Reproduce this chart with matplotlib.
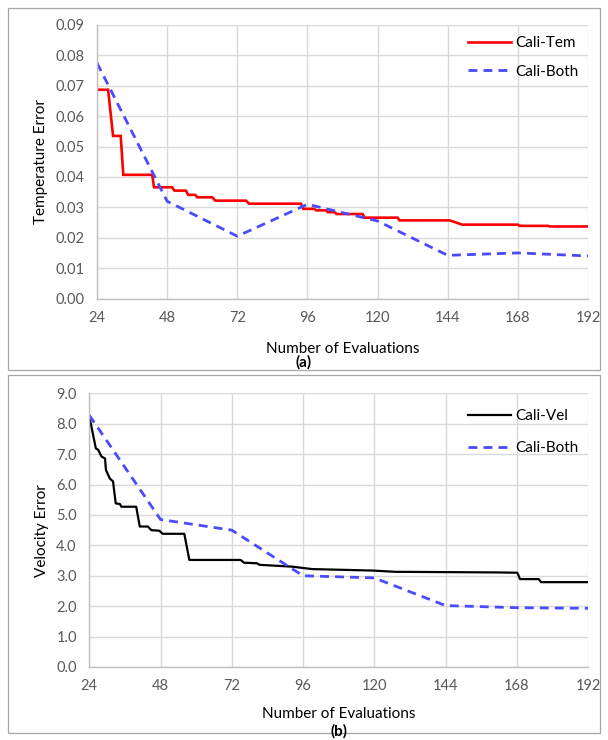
import matplotlib
matplotlib.use("Agg")
import matplotlib.pyplot as plt
from matplotlib.patches import Rectangle
import numpy as np

plt.rcParams['font.family'] = ['Lato', 'DejaVu Sans']

# ---- data (a) ----
tem_x = [24, 27.8, 29.5, 32.1, 33.0, 42.9, 43.5, 49.7, 50.5, 54.4, 55.2, 57.6, 58.4, 63.4, 64.5,
         75, 76, 93.8, 94.6, 98.4, 99, 102.4, 103, 105.3, 106, 114.9, 115.5, 126.9, 127.5, 144.7,
         149, 168, 168.6, 178.3, 179, 192]
tem_y = [0.0687, 0.0687, 0.0535, 0.0535, 0.0407, 0.0407, 0.0366, 0.0366, 0.0355, 0.0355, 0.0341, 0.0341,
         0.0333, 0.0333, 0.0322, 0.0322, 0.0312, 0.0312, 0.0295, 0.0295, 0.0290, 0.0290, 0.0284, 0.0284,
         0.0278, 0.0278, 0.0266, 0.0266, 0.0257, 0.0257, 0.0243, 0.0243, 0.0239, 0.0239, 0.0237, 0.0237]
both_a_x = [24, 48, 72, 96, 120, 144, 168, 192]
both_a_y = [0.0775, 0.0320, 0.0205, 0.0310, 0.0255, 0.0142, 0.0150, 0.0140]

# ---- data (b) ----
vel_x = [24, 26.2, 27.0, 28.1, 29.3, 29.6, 30.9, 32.0, 32.9, 34.3, 34.8, 39.8, 41.0, 43.7, 44.9,
         47.6, 48.7, 56.0, 57.7, 75.0, 76.1, 80.5, 81.3, 92.3, 99, 119.8, 127, 161, 168.2, 169.1,
         175.4, 176.2, 192]
vel_y = [8.25, 7.19, 7.14, 6.92, 6.86, 6.48, 6.20, 6.10, 5.38, 5.36, 5.27, 5.27, 4.62, 4.62, 4.50,
         4.48, 4.38, 4.38, 3.52, 3.52, 3.43, 3.41, 3.36, 3.30, 3.22, 3.17, 3.13, 3.11, 3.10, 2.89,
         2.89, 2.79, 2.79]
both_b_x = [24, 48, 72, 96, 120, 144, 168, 192]
both_b_y = [8.28, 4.85, 4.50, 3.00, 2.93, 2.02, 1.95, 1.93]

x_ticks = [24, 48, 72, 96, 120, 144, 168, 192]

W, H = 608, 740
fig = plt.figure(figsize=(W / 100, H / 100), dpi=100)

def fx(px):
    return px / W

def fy(py):
    return 1 - py / H

# outer chart borders
for (x0, y0, x1, y1) in [(8, 8, 600, 370), (8, 375, 600, 733)]:
    fig.patches.append(Rectangle((fx(x0), fy(y1)), fx(x1) - fx(x0), fy(y0) - fy(y1),
                                 transform=fig.transFigure, fill=False,
                                 edgecolor='#a6a6a6', linewidth=0.9))

tick_color = '#595959'
grid_color = '#d9d9d9'
blue = '#4a4aff'

def style(ax, ymax, ystep, fmt):
    ax.set_xlim(24, 192)
    ax.set_ylim(0, ymax)
    ax.set_xticks(x_ticks)
    yt = np.round(np.arange(0, ymax + ystep / 2, ystep), 4)
    ax.set_yticks(yt)
    ax.set_yticklabels([fmt.format(v) for v in yt])
    ax.grid(True, color=grid_color, linewidth=1.0)
    ax.set_axisbelow(True)
    for s in ['top', 'right']:
        ax.spines[s].set_visible(False)
    for s in ['left', 'bottom']:
        ax.spines[s].set_color('#bfbfbf')
        ax.spines[s].set_linewidth(1.0)
    ax.tick_params(length=0, labelsize=10.5, colors=tick_color, pad=9)

# ---- panel (a) ----
ax1 = fig.add_axes([fx(97), fy(298.5), fx(588) - fx(97), fy(25) - fy(298.5)])
style(ax1, 0.09, 0.01, '{:.2f}')
ax1.plot(tem_x, tem_y, color='#ff0000', linewidth=1.9, label='Cali-Tem', solid_joinstyle='miter')
ax1.plot(both_a_x, both_a_y, color=blue, linewidth=2.0, linestyle=(0, (3.2, 2.2)), label='Cali-Both')
ax1.set_ylabel('Temperature Error', fontsize=11, color='black', labelpad=5)
ax1.set_xlabel('Number of Evaluations', fontsize=11, color='black', labelpad=12)
fig.text(fx(304), fy(362), '(a)', ha='center', va='center', fontsize=11, fontweight='bold')
ax1.legend(loc='upper left', bbox_to_anchor=(fx(468), fy(36)), bbox_transform=fig.transFigure,
           frameon=False, fontsize=11, handlelength=2.8, handletextpad=0.3,
           labelspacing=0.95, borderpad=0, borderaxespad=0)

# ---- panel (b) ----
ax2 = fig.add_axes([fx(89.3), fy(667), fx(588) - fx(89.3), fy(393.3) - fy(667)])
style(ax2, 9.0, 1.0, '{:.1f}')
ax2.plot(vel_x, vel_y, color='black', linewidth=1.6, label='Cali-Vel')
ax2.plot(both_b_x, both_b_y, color=blue, linewidth=2.0, linestyle=(0, (3.2, 2.2)), label='Cali-Both')
ax2.set_ylabel('Velocity Error', fontsize=11, color='black', labelpad=5)
ax2.set_xlabel('Number of Evaluations', fontsize=11, color='black', labelpad=10)
fig.text(fx(339), fy(731), '(b)', ha='center', va='center', fontsize=11, fontweight='bold')
ax2.legend(loc='upper left', bbox_to_anchor=(fx(468), fy(409)), bbox_transform=fig.transFigure,
           frameon=False, fontsize=11, handlelength=2.8, handletextpad=0.3,
           labelspacing=1.2, borderpad=0, borderaxespad=0)

fig.savefig('out.png', dpi=100)
